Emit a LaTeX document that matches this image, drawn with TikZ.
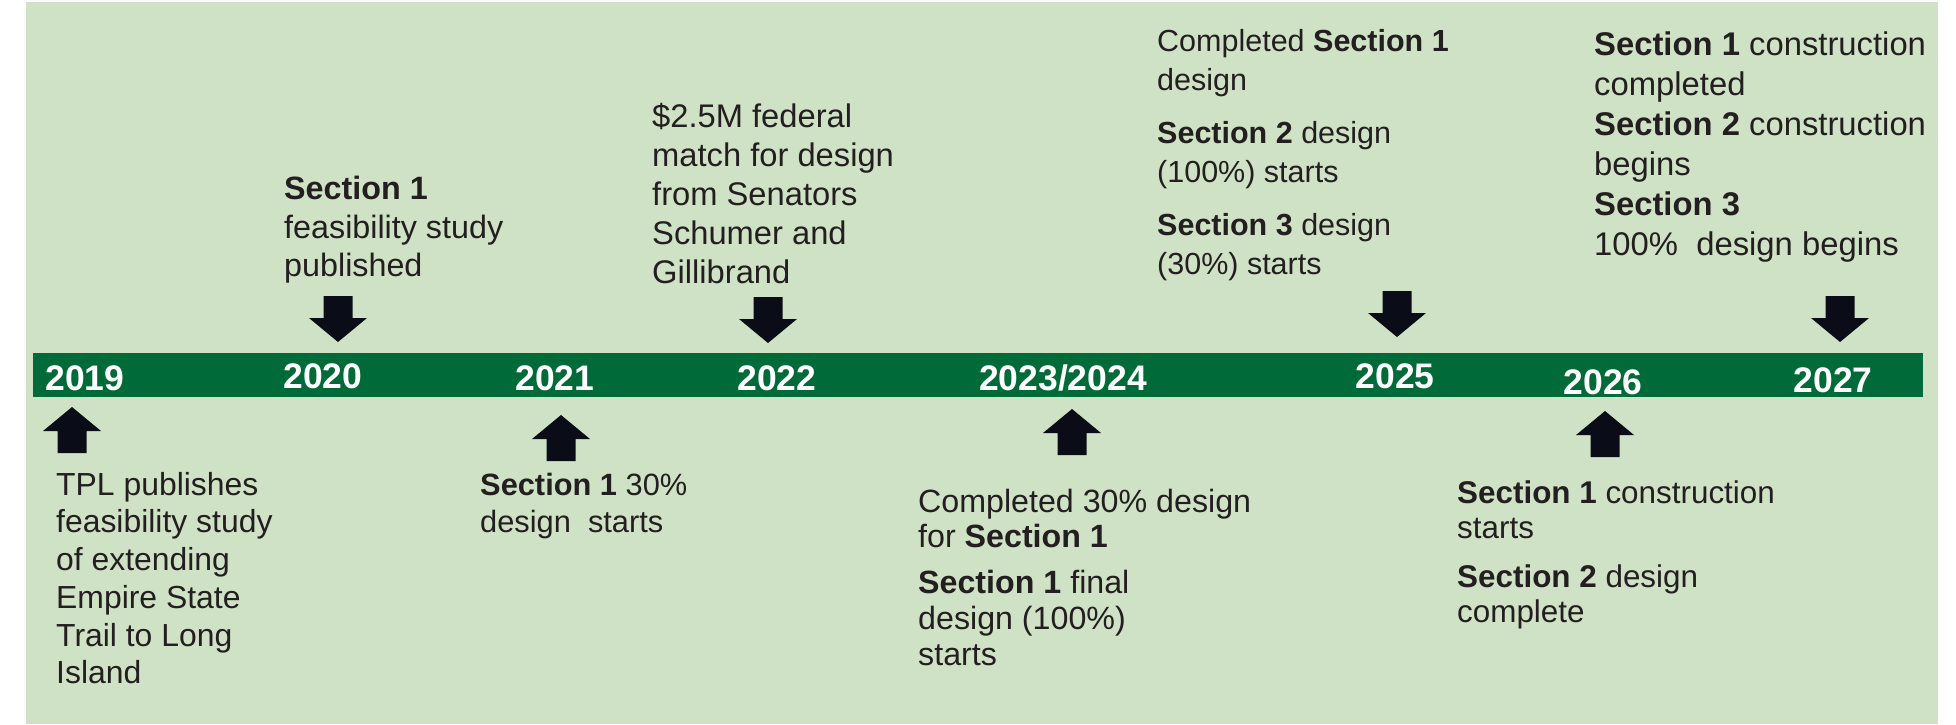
\documentclass[tikz,border=0pt]{standalone}
\usepackage{fontspec}
\setmainfont{Liberation Sans}
\definecolor{panel}{HTML}{D0E2C5}
\definecolor{band}{HTML}{006B38}
\definecolor{ink}{HTML}{231F20}
\definecolor{arrowfill}{HTML}{0A0C18}
% strut that fixes the height of a first line
\newcommand\firstline{\rule{0pt}{0.8em}}
\tikzset{
  year/.style={anchor=base, inner sep=0pt, text=white,
    font=\bfseries\fontsize{35.5}{40}\selectfont},
  note/.style={anchor=north west, inner sep=0pt, align=left, text=ink},
  pics/downarrow/.style={code={
    \fill[arrowfill] (-14.5,-46) -- (14.5,-46) -- (14.5,-24) -- (29,-24)
      -- (0,0) -- (-29,-24) -- (-14.5,-24) -- cycle;}},
  pics/uparrow/.style={code={
    \fill[arrowfill] (-14.5,46) -- (14.5,46) -- (14.5,24) -- (29,24)
      -- (0,0) -- (-29,24) -- (-14.5,24) -- cycle;}},
}
\begin{document}
\begin{tikzpicture}[x=1pt, y=-1pt]
\useasboundingbox (0,0) rectangle (1956,724);
% background panel and timeline band
\fill[panel] (26,2) rectangle (1938,724);
\fill[band] (33,353) rectangle (1923,397);

% years on the band
\node[year] (y2019) at (85,390) {2019};
\node[year] (y2020) at (323,388) {2020};
\node[year] (y2021) at (555,390) {2021};
\node[year] (y2022) at (777,390) {2022};
\node[year] (y2324) at (1063,390) {2023/2024};
\node[year] (y2025) at (1395,388) {2025};
\node[year] (y2026) at (1603,394) {2026};
\node[year] (y2027) at (1833,392) {2027};

% block arrows above the band
\pic (a2020) at (338,342) {downarrow};
\pic (a2022) at (768,343) {downarrow};
\pic (a2025) at (1397,337) {downarrow};
\pic (a2027) at (1840,342) {downarrow};
% block arrows below the band
\pic (a2019) at (72,407) {uparrow};
\pic (a2021) at (561,415) {uparrow};
\pic (a2324) at (1072,409) {uparrow};
\pic (a2026) at (1605,411) {uparrow};

% milestones above the band
\node[note, font=\fontsize{32.3}{38.8}\selectfont] (t2020) at (284,173.2)
  {\firstline\textbf{Section 1}\\feasibility study\\published};
\node[note, font=\fontsize{32.7}{39.2}\selectfont] (t2022) at (652,100.8)
  {\firstline\$2.5M federal\\match for design\\from Senators\\Schumer and\\Gillibrand};
\node[note, font=\fontsize{30.5}{39.5}\selectfont] (t2025) at (1157,26.6)
  {\firstline Completed \textbf{Section 1}\\design\\[13pt]
   \textbf{Section 2} design\\(100\%) starts\\[13pt]
   \textbf{Section 3} design\\(30\%) starts};
\node[note, font=\fontsize{32.8}{40}\selectfont] (t2027) at (1594,28.8)
  {\firstline\textbf{Section 1} construction\\completed\\
   \textbf{Section 2} construction\\begins\\
   \textbf{Section 3}\\100\%\ \ design begins};

% milestones below the band
\node[note, font=\fontsize{31.9}{37.7}\selectfont] (t2019) at (56,469.5)
  {\firstline TPL publishes\\feasibility study\\of extending\\Empire State\\Trail to Long\\Island};
\node[note, font=\fontsize{30.8}{37.7}\selectfont] (t2021) at (480,470.4)
  {\firstline\textbf{Section 1} 30\%\\design\ \ starts};
\node[note, font=\fontsize{32.2}{35.8}\selectfont] (t2324) at (918,486.2)
  {\firstline Completed 30\% design\\for \textbf{Section 1}\\[10pt]
   \textbf{Section 1} final\\design (100\%)\\starts};
\node[note, font=\fontsize{31.4}{35.5}\selectfont] (t2026) at (1457,477.9)
  {\firstline\textbf{Section 1} construction\\starts\\[13pt]
   \textbf{Section 2} design\\complete};
\end{tikzpicture}
\end{document}
